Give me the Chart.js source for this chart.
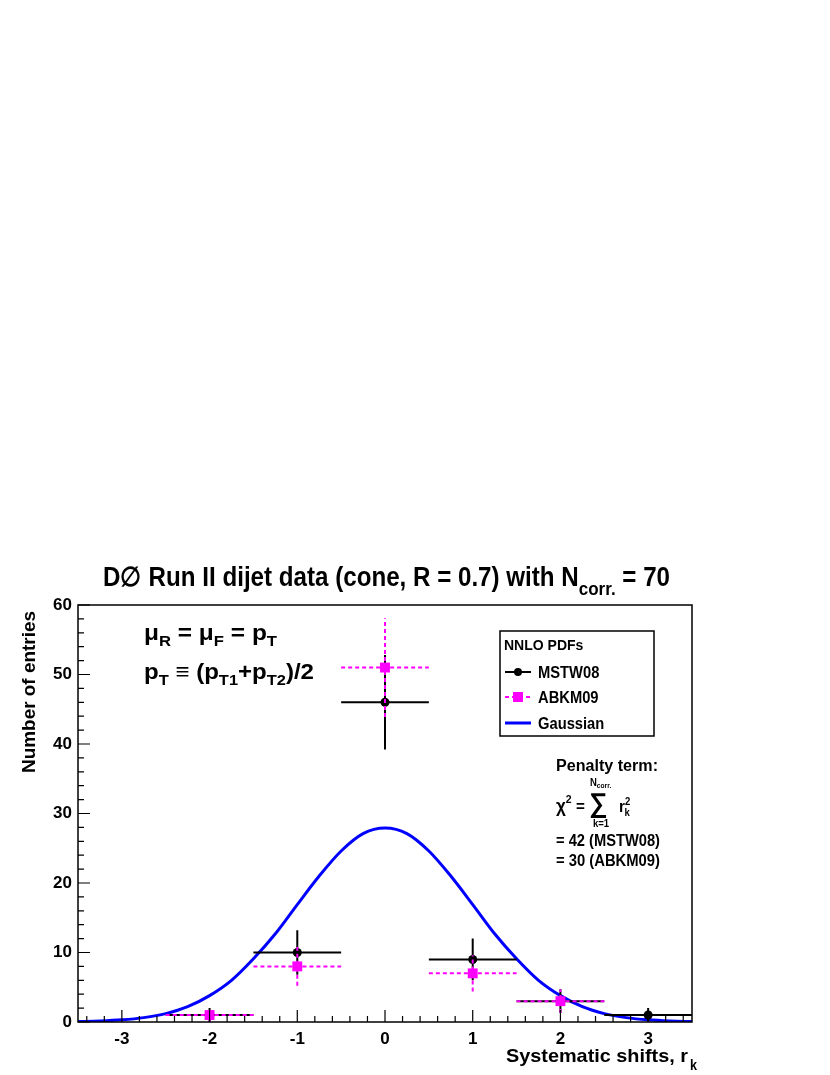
<!DOCTYPE html>
<html>
<head>
<meta charset="utf-8">
<script src="https://cdn.jsdelivr.net/npm/chart.js@4/dist/chart.umd.min.js"></script>
<style>
  html, body { margin: 0; padding: 0; background: #fff; }
  #wrap { width: 830px; height: 1075px; }
</style>
</head>
<body>
<div id="wrap"><canvas id="c" width="830" height="1075"></canvas></div>
<script>
// data
const bins = [-2, -1, 0, 1, 2, 3];
const mstw = [1, 10, 46, 9, 3, 1];
const mstwErr = [1, 3.2, 6.8, 3, 1.7, 1];
const abkmBins = [-2, -1, 0, 1, 2];
const abkm = [1, 8, 51, 7, 3];
const abkmErr = [1, 2.8, 7.1, 2.6, 1.7];
const binHalf = 0.5;

const gaussX = [-3.5, -3.25, -3, -2.75, -2.5, -2.25, -2, -1.75, -1.5, -1.25, -1, -0.75, -0.5, -0.25,
                0, 0.25, 0.5, 0.75, 1, 1.25, 1.5, 1.75, 2, 2.25, 2.5, 2.75, 3, 3.25, 3.5];
const gaussY = [0.06, 0.14, 0.31, 0.63, 1.2, 2.2, 3.8, 6.0, 9.1, 12.7, 16.9, 21.0, 24.6, 27.1,
                27.9, 27.1, 24.6, 21.0, 16.9, 12.7, 9.1, 6.0, 3.8, 2.2, 1.2, 0.63, 0.31, 0.14, 0.06];

const xTicks = [-3, -2, -1, 0, 1, 2, 3];
const yTicks = [0, 10, 20, 30, 40, 50, 60];

const FONT = '"Liberation Sans", Arial, Helvetica, sans-serif';
const MAGENTA = '#ff00ff';
const BLUE = '#0000ff';

// draw runs of text [text, size, dy, dx] with a horizontal squeeze
function rich(ctx, x, y, runs, opt = {}) {
    let total = 0;
    const widths = runs.map(r => {
        ctx.font = `bold ${r[1]}px ${FONT}`;
        const w = ctx.measureText(r[0]).width + (r[3] || 0);
        total += w;
        return w;
    });
    let sx = opt.sx || 1;
    if (opt.width) sx = opt.width / total;
    if (opt.align === 'right') x -= total * sx;
    if (opt.align === 'center') x -= total * sx / 2;
    ctx.save();
    ctx.translate(x, y);
    ctx.scale(sx, 1);
    ctx.fillStyle = '#000';
    ctx.textBaseline = 'alphabetic';
    ctx.textAlign = 'left';
    let cx = 0;
    runs.forEach((r, i) => {
        ctx.font = `bold ${r[1]}px ${FONT}`;
        ctx.fillText(r[0], cx + (r[3] || 0), r[2]);
        cx += widths[i];
    });
    ctx.restore();
}

const rootPlugin = {
    id: 'rootStyle',
    beforeDatasetDraw(chart, args) {
        const ds = chart.data.datasets[args.index];
        if (!ds.errors) return;
        const ctx = chart.ctx, xs = chart.scales.x, ys = chart.scales.y;
        ctx.save();
        ctx.beginPath();
        ctx.rect(chart.chartArea.left, chart.chartArea.top,
                 chart.chartArea.right - chart.chartArea.left, chart.chartArea.bottom - chart.chartArea.top);
        ctx.clip();
        ctx.strokeStyle = ds.borderColor;
        ctx.lineWidth = 2;
        ctx.setLineDash(ds.errDash || []);
        ds.data.forEach((p, i) => {
            const e = ds.errors[i];
            ctx.beginPath();
            ctx.moveTo(xs.getPixelForValue(p.x - binHalf), ys.getPixelForValue(p.y));
            ctx.lineTo(xs.getPixelForValue(p.x + binHalf), ys.getPixelForValue(p.y));
            ctx.moveTo(xs.getPixelForValue(p.x), ys.getPixelForValue(Math.max(0, p.y - e)));
            ctx.lineTo(xs.getPixelForValue(p.x), ys.getPixelForValue(p.y + e));
            ctx.stroke();
        });
        ctx.restore();
    },
    afterDraw(chart) {
        const ctx = chart.ctx, a = chart.chartArea, xs = chart.scales.x, ys = chart.scales.y;
        ctx.save();
        // frame
        ctx.strokeStyle = '#000';
        ctx.lineWidth = 1.5;
        ctx.strokeRect(a.left, a.top, a.right - a.left, a.bottom - a.top);
        // ticks (inside, ROOT style)
        ctx.lineWidth = 1.2;
        ctx.beginPath();
        for (let i = -34; i <= 34; i += 2) {
            const px = xs.getPixelForValue(i / 10);
            const len = i % 10 === 0 ? 12 : 6;
            ctx.moveTo(px, a.bottom);
            ctx.lineTo(px, a.bottom - len);
        }
        for (let v = 0; v <= 60; v += 2) {
            const py = ys.getPixelForValue(v);
            const len = v % 10 === 0 ? 12 : 6;
            ctx.moveTo(a.left, py);
            ctx.lineTo(a.left + len, py);
        }
        ctx.stroke();

        // title
        rich(ctx, 103, 586, [
            ['D\u2205 Run II dijet data (cone, R = 0.7) with N', 27, 0],
            ['corr.', 19, 9],
            [' = 70', 27, 0]
        ], { width: 567 });

        // axis titles
        rich(ctx, 688, 1062, [['Systematic shifts, r', 19, 0]], { align: 'right', width: 182 });
        rich(ctx, 690, 1070, [['k', 14, 0]], { sx: 0.9 });
        ctx.save();
        ctx.translate(35, 611);
        ctx.rotate(-Math.PI / 2);
        rich(ctx, 0, 0, [['Number of entries', 19, 0]], { align: 'right', width: 162 });
        ctx.restore();

        // scale annotation
        rich(ctx, 144, 640, [
            ['\u03bc', 22, 0], ['R', 15, 6], [' = ', 22, 0],
            ['\u03bc', 22, 0], ['F', 15, 6], [' = p', 22, 0], ['T', 15, 6]
        ], { width: 133 });
        rich(ctx, 144, 679, [
            ['p', 22, 0], ['T', 15, 6], [' \u2261 (p', 22, 0], ['T1', 15, 6],
            ['+p', 22, 0], ['T2', 15, 6], [')/2', 22, 0]
        ], { width: 170 });

        // legend box
        ctx.fillStyle = '#fff';
        ctx.fillRect(500, 631, 154, 105);
        ctx.strokeStyle = '#000';
        ctx.lineWidth = 1.5;
        ctx.strokeRect(500, 631, 154, 105);
        rich(ctx, 504, 650, [['NNLO PDFs', 14, 0]], { sx: 1 });
        const rows = [
            { y: 672, color: '#000', dash: [], lw: 2, label: 'MSTW08', mark: 'circle' },
            { y: 697, color: MAGENTA, dash: [4, 3], lw: 2, label: 'ABKM09', mark: 'rect' },
            { y: 723, color: BLUE, dash: [], lw: 3, label: 'Gaussian', mark: null }
        ];
        rows.forEach(r => {
            ctx.strokeStyle = r.color;
            ctx.lineWidth = r.lw;
            ctx.setLineDash(r.dash);
            ctx.beginPath();
            ctx.moveTo(505, r.y);
            ctx.lineTo(531, r.y);
            ctx.stroke();
            ctx.setLineDash([]);
            ctx.fillStyle = r.color;
            if (r.mark === 'circle') {
                ctx.beginPath();
                ctx.arc(518, r.y, 4, 0, Math.PI * 2);
                ctx.fill();
            } else if (r.mark === 'rect') {
                ctx.fillRect(513, r.y - 5, 10, 10);
            }
            rich(ctx, 538, r.y + 6, [[r.label, 16, 0]], { sx: 0.92 });
        });

        // penalty term
        rich(ctx, 556, 771, [['Penalty term:', 16, 0]], { width: 102 });
        rich(ctx, 556, 812, [['\u03c7', 18, 0], ['2', 11, -9], [' = ', 16, 0]], { sx: 0.95 });
        rich(ctx, 589, 812, [['\u2211', 27, 0]], { sx: 0.95 });
        rich(ctx, 590, 786, [['N', 10, 0], ['corr.', 7, 2]], { sx: 0.95 });
        rich(ctx, 593, 827, [['k=1', 10, 0]], { sx: 0.95 });
        rich(ctx, 619, 812, [['r', 16, 0], ['2', 10, -7], ['k', 10, 4, -6]], { sx: 0.95 });
        rich(ctx, 556, 846, [['= 42 (MSTW08)', 16, 0]], { width: 104 });
        rich(ctx, 556, 866, [['= 30 (ABKM09)', 16, 0]], { width: 104 });
        ctx.restore();
    }
};

const ctx = document.getElementById('c').getContext('2d');
const chart = new Chart(ctx, {
    type: 'scatter',
    data: {
        datasets: [
            {
                label: 'ABKM09',
                data: abkmBins.map((x, i) => ({ x, y: abkm[i] })),
                errors: abkmErr,
                errDash: [4, 3],
                borderColor: MAGENTA,
                backgroundColor: MAGENTA,
                pointStyle: 'rect',
                pointRadius: 7,
                pointBorderWidth: 0,
                showLine: false,
                order: 1,
            },
            {
                label: 'MSTW08',
                data: bins.map((x, i) => ({ x, y: mstw[i] })),
                errors: mstwErr,
                borderColor: '#000',
                backgroundColor: '#000',
                pointStyle: 'circle',
                pointRadius: 4.5,
                pointBorderWidth: 0,
                showLine: false,
                order: 2,
            },
            {
                label: 'Gaussian',
                data: gaussX.map((x, i) => ({ x, y: gaussY[i] })),
                borderColor: BLUE,
                borderWidth: 3,
                pointRadius: 0,
                showLine: true,
                cubicInterpolationMode: 'monotone',
                order: 3,
            },
        ],
    },
    options: {
        responsive: false,
        devicePixelRatio: 1,
        animation: false,
        layout: { padding: { top: 605, right: 138, left: 0, bottom: 0 } },
        plugins: {
            legend: { display: false },
            tooltip: { enabled: false },
        },
        scales: {
            x: {
                type: 'linear',
                min: -3.5,
                max: 3.5,
                afterBuildTicks: s => { s.ticks = xTicks.map(v => ({ value: v })); },
                afterFit: s => { s.height = 53; },
                grid: { display: false, drawTicks: false },
                border: { display: false },
                ticks: {
                    padding: 7,
                    color: '#000',
                    font: { family: FONT, size: 17, weight: 'bold' },
                },
            },
            y: {
                min: 0,
                max: 60,
                afterBuildTicks: s => { s.ticks = yTicks.map(v => ({ value: v })); },
                afterFit: s => { s.width = 78; },
                grid: { display: false, drawTicks: false },
                border: { display: false },
                ticks: {
                    padding: 6,
                    color: '#000',
                    font: { family: FONT, size: 17, weight: 'bold' },
                },
            },
        },
    },
    plugins: [rootPlugin],
});
</script>
</body>
</html>
